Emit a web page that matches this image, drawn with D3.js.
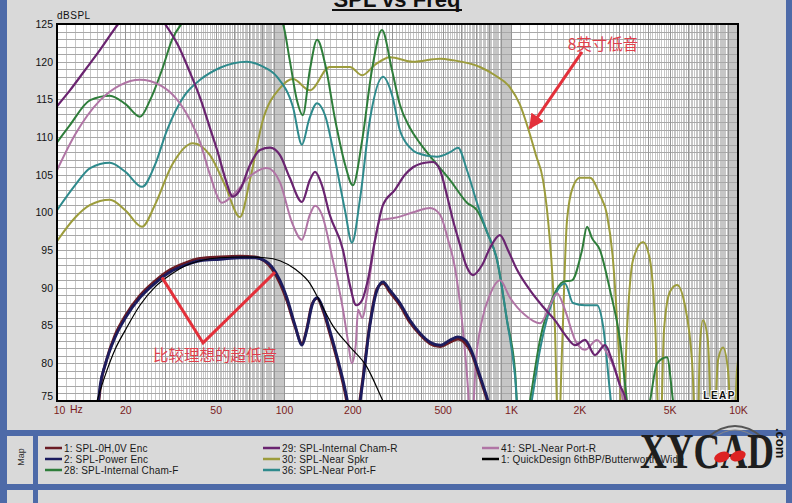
<!DOCTYPE html>
<html><head><meta charset="utf-8">
<script src="https://cdn.jsdelivr.net/npm/d3@7"></script>
<style>
html,body{margin:0;padding:0;background:#d9d9d9;}
svg{display:block;}
</style></head><body>
<svg id="c" width="792" height="503"></svg>
<script>
// ---------- DATA ----------
const yTicks = [75, 80, 85, 90, 95, 100, 105, 110, 115, 120, 125];
const xTicks = [10, 20, 50, 100, 200, 500, 1000, 2000, 5000, 10000];
const xTickLabels = ["10", "20", "50", "100", "200", "500", "1K", "2K", "5K", "10K"];

// [frequency Hz, dB SPL]
const spl1 = [[14.8,70],[15.6,77.3],[16.4,80.1],[18,83.7],[20,86.3],[23.2,89],[27,90.9],[31.5,92.4],[36.6,93.3],[42.7,93.9],[52.3,94.1],[64,94.2],[74.5,94.1],[82.5,93.5],[88.5,92.5],[96,90.6],[103,88.3],[112,84.8],[120,82.6],[126,84.6],[133,87.9],[140,88.6],[148.5,87],[159,84],[173,80],[186,76],[195,72.5],[201,69.5],[212,73.5],[223,78.2],[239,85.3],[257,89.9],[273,90.6],[293,89.4],[324,87.7],[359,85.4],[397,83.8],[440,82.6],[487,82.2],[539,82.8],[584,83.2],[627,82.7],[673,81.2],[716,78.8],[753,76.8],[792,74.7],[825,72]];
const spl2 = [[14.7,70],[15.5,77.1],[16.3,79.8],[18,83.4],[20,86],[23.2,88.7],[27,90.6],[31.5,92.1],[36.6,93],[42.7,93.6],[52.3,93.8],[64,94],[74.5,94],[82.5,93.6],[88.5,92.8],[96,91],[103,88.7],[112,85],[120,82.4],[126,84.4],[133,87.7],[140,88.7],[148.5,87.3],[159,84.4],[173,80.4],[186,76.5],[195,73.1],[201,69.8],[212,73.1],[223,77.8],[239,85],[257,89.7],[273,90.8],[293,89.7],[324,88],[359,85.7],[397,84],[440,82.8],[487,82.4],[539,83.1],[584,83.5],[627,83.1],[673,81.5],[716,79.1],[753,77.1],[792,75],[825,72.5]];
const spl28 = [[10,109.3],[11.4,111.6],[14,114.9],[17.1,115.5],[20,114.4],[23.2,112.7],[25.7,114.9],[29.3,119.3],[32.1,122.9],[35.9,125.3],[42.7,127.5],[64,128.5],[86.8,127.5],[99,125],[106,120.2],[114,114.9],[121,112.9],[130,118.9],[140,122.9],[152,119.6],[168,112.3],[186,106.3],[201,103.6],[221,109.6],[244,118.9],[270,124.2],[299,118.9],[324,114.3],[359,111.2],[397,109.2],[453,107],[539,104.3],[640,101.3],[708,100.3],[784,97.4],[868,93.7],[960,85.7],[1041,79.1],[1100,68],[1212,75],[1342,83.1],[1531,88.8],[1695,90.8],[1856,91],[2055,95],[2162,98.1],[2274,96.6],[2466,95],[2730,89.7],[3020,83.1],[3243,75],[3447,69],[4095,75],[4398,80],[4867,80.8],[5172,75],[5440,70]];
const spl29 = [[10,114.1],[11.4,116.2],[13.3,118.9],[15.5,121.6],[18.6,125],[21,126.9],[25.7,127.5],[29.9,125],[34.1,122.2],[38.5,118.6],[42.7,115.2],[47.2,111.2],[51.2,107.9],[55,104.6],[59.6,102.1],[64,103],[70.8,106.3],[78.4,108.3],[86.8,108.6],[96,107.6],[106,104.6],[120,101.4],[130,104.3],[137,105.4],[147,103.6],[159,99.7],[182,95],[195,90.4],[208,87.7],[221,88.4],[234,91],[252,96.4],[273,101],[308,103],[341,105],[370,106],[418,106.6],[453,106.7],[487,105.6],[522,102.3],[555,99],[596,95.7],[634,93],[680,91.7],[745,93],[808,95.3],[894,97],[970,95],[1063,92.4],[1212,89.7],[1384,87.5],[1563,85.7],[1729,83.8],[1914,82.4],[2118,83.1],[2344,81.1],[2595,82.4],[2786,80.4],[3020,77.1],[3210,75],[3343,70]];
const spl30 = [[10,96.2],[12,99.3],[14,101],[17.1,101.7],[20,100.3],[23.7,98.1],[27,101],[32.1,106.3],[39.7,109.2],[47.2,107.6],[55,103.6],[64,99.4],[70.8,104.3],[80.8,112.3],[96,116.5],[109.5,117.7],[130,116.2],[159,119.3],[195,119.3],[221,118.2],[252,119.6],[293,120.6],[370,120],[487,120.4],[555,120.2],[730,119.3],[850,118.2],[990,116.6],[1095,114.3],[1188,111.2],[1288,107.6],[1384,104.3],[1456,99],[1516,92.4],[1563,84.4],[1595,73.8],[1610,68],[1678,81.8],[1765,99],[1875,103.4],[2014,104.6],[2228,104.6],[2466,102.3],[2648,99.7],[2814,93.7],[2931,85.7],[3020,77.8],[3083,68],[3243,84.4],[3447,93.7],[3815,96.1],[4095,93.7],[4309,85.7],[4530,68],[4721,84.4],[5014,89.5],[5386,90.4],[5835,87.7],[6270,80.4],[6597,68],[6800,82.4],[7012,85.7],[7360,83.1],[7761,68],[8165,80.4],[8589,82.1],[9035,79.1],[9506,68],[9900,79.1],[10000,80.4]];
const spl36 = [[10,100.3],[12,103.6],[14,105.9],[17.1,106.6],[20,105.4],[23.7,103.4],[27,106.3],[30.5,110.9],[36.6,115.6],[42.7,117.6],[52.3,119.2],[68.7,120],[80,119.4],[93.2,118],[109.5,114],[120,109],[128.9,112.3],[139.8,114.5],[151.6,112.9],[167.8,107],[185.6,100.3],[199.3,96],[216,101.7],[239,112.3],[273,118],[299,115.6],[324,110.9],[359,108.6],[385,107.9],[472,107.4],[539,108],[584,108.6],[640,105.6],[708,101.3],[784,97.4],[868,93.7],[960,85.7],[1041,78.4],[1095,70],[1212,73.8],[1342,81.8],[1531,88.4],[1729,90.6],[1875,88],[2118,87.7],[2393,87.7],[2543,85],[2730,76.1],[2843,71]];
const spl41 = [[10,105.6],[12,110.3],[15.5,114.9],[19,116.9],[23.2,117.6],[28.4,116.9],[33.1,115.3],[38.5,112.3],[42.7,109.3],[47.2,105],[53.3,101.3],[60.8,102.6],[70.8,104.8],[84.2,105.9],[96,104],[108.4,98.7],[120,96.4],[130,99.7],[137,100.9],[147,99.7],[164,93.7],[182,87.1],[191,83.1],[199,80],[207,82.4],[212,87.1],[221,86],[234,89.7],[252,96.4],[265,99],[308,99.3],[378,100.1],[440,100.6],[487,99.7],[528,96.4],[567,92.6],[608,85.7],[647,76.5],[667,70],[701,80.4],[745,85.7],[808,89.1],[894,91],[990,88.7],[1153,86.4],[1342,85.3],[1485,87.7],[1595,89.3],[1729,87.1],[1914,83.1],[2118,81.8],[2393,83.1],[2595,81.8],[2872,79.1],[3083,75.8],[3290,70]];
const quickDesign = [[14,72],[15,75],[16.3,78.4],[18,81.8],[20,84.4],[23.2,87.7],[27,90.1],[31.5,91.7],[36.6,92.9],[42.7,93.6],[52.3,94],[67.3,94.1],[82.5,94],[96,93.6],[111.8,92.5],[130,90.6],[141,88.7],[164,85],[195,82.2],[232,79.5],[270,75.3],[293,73]];

const seriesNames = ["1: SPL-0H,0V Enc","2: SPL-Power Enc","28: SPL-Internal Cham-F","29: SPL-Internal Cham-R","30: SPL-Near Spkr","36: SPL-Near Port-F","41: SPL-Near Port-R","1: QuickDesign 6thBP/Butterworth Wide"];
const seriesColors = ["#6b1c24","#1c1c5e","#2e7d3a","#6a2470","#9c9c3c","#2e8a8c","#b075a5","#000000"];
const seriesData = [spl1, spl2, spl28, spl29, spl30, spl36, spl41, quickDesign];
const seriesWidths = [2.8, 2.8, 2, 2.2, 2, 2, 2, 1.2];

// ---------- LAYOUT ----------
const svg = d3.select('#c');
const P = {l:57, r:738, t:24, b:401};
const x = d3.scaleLog().domain([10,10000]).range([P.l,P.r]);
const y = d3.scaleLinear().domain([75,125]).range([P.b,P.t]);

svg.append('rect').attr('width',792).attr('height',503).attr('fill','#d9d9d9');
const blue = '#4d6aa8';
svg.append('rect').attr('x',0).attr('y',0).attr('width',7).attr('height',503).attr('fill',blue);
svg.append('rect').attr('x',786).attr('y',0).attr('width',6).attr('height',503).attr('fill',blue);
svg.append('rect').attr('x',0).attr('y',430).attr('width',792).attr('height',6).attr('fill',blue);
svg.append('rect').attr('x',0).attr('y',484).attr('width',792).attr('height',6).attr('fill',blue);
svg.append('rect').attr('x',33).attr('y',436).attr('width',5).attr('height',67).attr('fill',blue);

// title
svg.append('text').attr('x',397).attr('y',7).attr('text-anchor','middle')
  .attr('font-family','Liberation Sans, Arial, sans-serif').attr('font-weight','bold')
  .attr('font-size',22).attr('fill','#111').text('SPL vs Freq');
svg.append('line').attr('x1',332).attr('x2',462).attr('y1',10).attr('y2',10).attr('stroke','#111').attr('stroke-width',2);

// plot bg
svg.append('rect').attr('x',P.l).attr('y',P.t).attr('width',P.r-P.l).attr('height',P.b-P.t).attr('fill','#fff');

// grid
const grid = svg.append('g');
[10,100,1000].forEach(d => {
  for (let k=11; k<100; k++) {
    if (k%10===0) continue;
    const xx = Math.round(x(d*k/10))+0.5;
    grid.append('line').attr('x1',xx).attr('x2',xx).attr('y1',P.t).attr('y2',P.b)
      .attr('stroke','#c6c6c6').attr('stroke-width',1);
  }
});
for (let v=75; v<=125; v++) {
  const yy = Math.round(y(v))+0.5;
  grid.append('line').attr('x1',P.l).attr('x2',P.r).attr('y1',yy).attr('y2',yy).attr('stroke','#a8a8a8').attr('stroke-width',1);
}
[10,100,1000].forEach(d => {
  for (let k=1; k<=10; k++) {
    const xx = Math.round(x(d*k))+0.5;
    grid.append('line').attr('x1',xx).attr('x2',xx).attr('y1',P.t).attr('y2',P.b)
      .attr('stroke','#959595').attr('stroke-width',1);
  }
});

// curves
svg.append('clipPath').attr('id','pc').append('rect').attr('x',P.l).attr('y',P.t).attr('width',P.r-P.l).attr('height',P.b-P.t);
const line = d3.line().x(d=>x(d[0])).y(d=>y(d[1])).curve(d3.curveMonotoneX);
const cg = svg.append('g').attr('clip-path','url(#pc)');
const order = [4,2,5,6,3,0,1,7];
order.forEach(i => {
  cg.append('path').attr('d', line(seriesData[i])).attr('fill','none')
    .attr('stroke', seriesColors[i]).attr('stroke-width', seriesWidths[i])
    .attr('stroke-linejoin','round').attr('stroke-linecap','round');
});

// LEAP mark
svg.append('text').attr('x',736).attr('y',399).attr('text-anchor','end')
  .attr('font-family','Liberation Sans, Arial, sans-serif').attr('font-weight','bold')
  .attr('font-size',10).attr('letter-spacing',1.5).attr('fill','#111')
  .attr('stroke','#fff').attr('stroke-width',2).attr('paint-order','stroke').text('LEAP');

// frame
svg.append('rect').attr('x',P.l).attr('y',P.t).attr('width',P.r-P.l).attr('height',P.b-P.t)
  .attr('fill','none').attr('stroke','#000').attr('stroke-width',2);

// axes labels
const yAxis = d3.axisLeft(y).tickValues(yTicks).tickSize(0).tickPadding(4).tickFormat(d3.format('d'));
const yg = svg.append('g').attr('transform',`translate(${P.l},0)`).call(yAxis);
yg.select('.domain').remove();
yg.selectAll('text').attr('font-family','Liberation Sans, Arial, sans-serif').attr('font-size',10.5).attr('fill','#111');
yg.selectAll('.tick').filter(d=>d===75).select('text').attr('dy','-0.1em');

const xAxis = d3.axisBottom(x).tickValues(xTicks).tickSize(0).tickPadding(6).tickFormat((d,i)=>xTickLabels[i]);
const xg = svg.append('g').attr('transform',`translate(0,${P.b})`).call(xAxis);
xg.select('.domain').remove();
xg.selectAll('text').attr('font-family','Liberation Sans, Arial, sans-serif').attr('font-size',10.5).attr('fill','#7a1c1c');
xg.selectAll('.tick').filter(d=>d===10).select('text').attr('dx','0.2em');
svg.append('text').attr('x',x(10)+13).attr('y',P.b+12).attr('font-family','Liberation Sans, Arial, sans-serif')
  .attr('font-size',10.5).attr('fill','#7a1c1c').text('Hz');
svg.append('text').attr('x',P.l).attr('y',19).attr('font-family','Liberation Sans, Arial, sans-serif')
  .attr('font-size',10).attr('letter-spacing',0.5).attr('fill','#111').text('dBSPL');

// annotations
const red = '#e3303a';
svg.append('defs').append('marker').attr('id','ah').attr('viewBox','0 0 10 10').attr('refX',9).attr('refY',5)
  .attr('markerWidth',5).attr('markerHeight',5).attr('orient','auto')
  .append('path').attr('d','M0,0L10,5L0,10z').attr('fill',red);
svg.append('line').attr('x1',x(2055)).attr('y1',y(121.3)).attr('x2',x(1212)).attr('y2',y(111.2))
  .attr('stroke',red).attr('stroke-width',3).attr('marker-end','url(#ah)');
svg.append('text').attr('x',x(2543)).attr('y',y(121.5)).attr('text-anchor','middle')
  .attr('font-family','Noto Sans CJK SC, sans-serif').attr('font-size',15.5).attr('fill','#e0404c').text('8英寸低音');
const vPts = [[29,91.4],[44,82.7],[91.3,92.1]];
svg.append('path').attr('d', d3.line().x(d=>x(d[0])).y(d=>y(d[1]))(vPts)).attr('fill','none')
  .attr('stroke',red).attr('stroke-width',3).attr('stroke-linejoin','miter');
svg.append('text').attr('x',x(49.7)).attr('y',y(80.3)).attr('text-anchor','middle')
  .attr('font-family','Noto Sans CJK SC, sans-serif').attr('font-size',15.5).attr('fill','#e0404c').text('比较理想的超低音');

// legend
const legPos = [[45,448],[45,459],[45,470],[263,448],[263,459],[263,470],[482,448],[482,459]];
const lg = svg.append('g');
seriesNames.forEach((n,i)=>{
  const [lx,ly] = legPos[i];
  lg.append('line').attr('x1',lx).attr('x2',lx+17).attr('y1',ly).attr('y2',ly).attr('stroke',seriesColors[i]).attr('stroke-width',2.5);
  lg.append('text').attr('x',lx+19).attr('y',ly+3.5).attr('font-family','Liberation Sans, Arial, sans-serif')
    .attr('font-size',10).attr('letter-spacing',0.15).attr('fill','#1a1a1a').text(n);
});
svg.append('text').attr('transform','translate(24,457) rotate(-90)').attr('text-anchor','middle')
  .attr('font-family','Liberation Sans, Arial, sans-serif').attr('font-size',9).attr('fill','#333').text('Map');

// watermark logo
const wm = svg.append('g');
wm.append('path').attr('d','M708,437 Q735,415 762,437').attr('fill','none').attr('stroke','#555').attr('stroke-width',2);
wm.append('path').attr('d','M712,439 Q735,421 758,439').attr('fill','none').attr('stroke','#888').attr('stroke-width',1);
wm.append('text').attr('x',640).attr('y',468).attr('font-family','Liberation Serif, serif').attr('font-weight','bold')
  .attr('font-size',50).attr('textLength',134).attr('lengthAdjust','spacingAndGlyphs').attr('fill','#1e1e1e').text('XYCAD');
wm.append('ellipse').attr('cx',722).attr('cy',457).attr('rx',8).attr('ry',5).attr('transform','rotate(-20 722 457)').attr('fill','#d22');
wm.append('ellipse').attr('cx',738).attr('cy',456).attr('rx',8).attr('ry',5).attr('transform','rotate(-20 738 456)').attr('fill','#d22');
wm.append('text').attr('transform','translate(776,428) rotate(90)').attr('font-family','Liberation Sans, Arial, sans-serif')
  .attr('font-weight','bold').attr('font-size',13).attr('fill','#111').text('.com');
</script></body></html>
